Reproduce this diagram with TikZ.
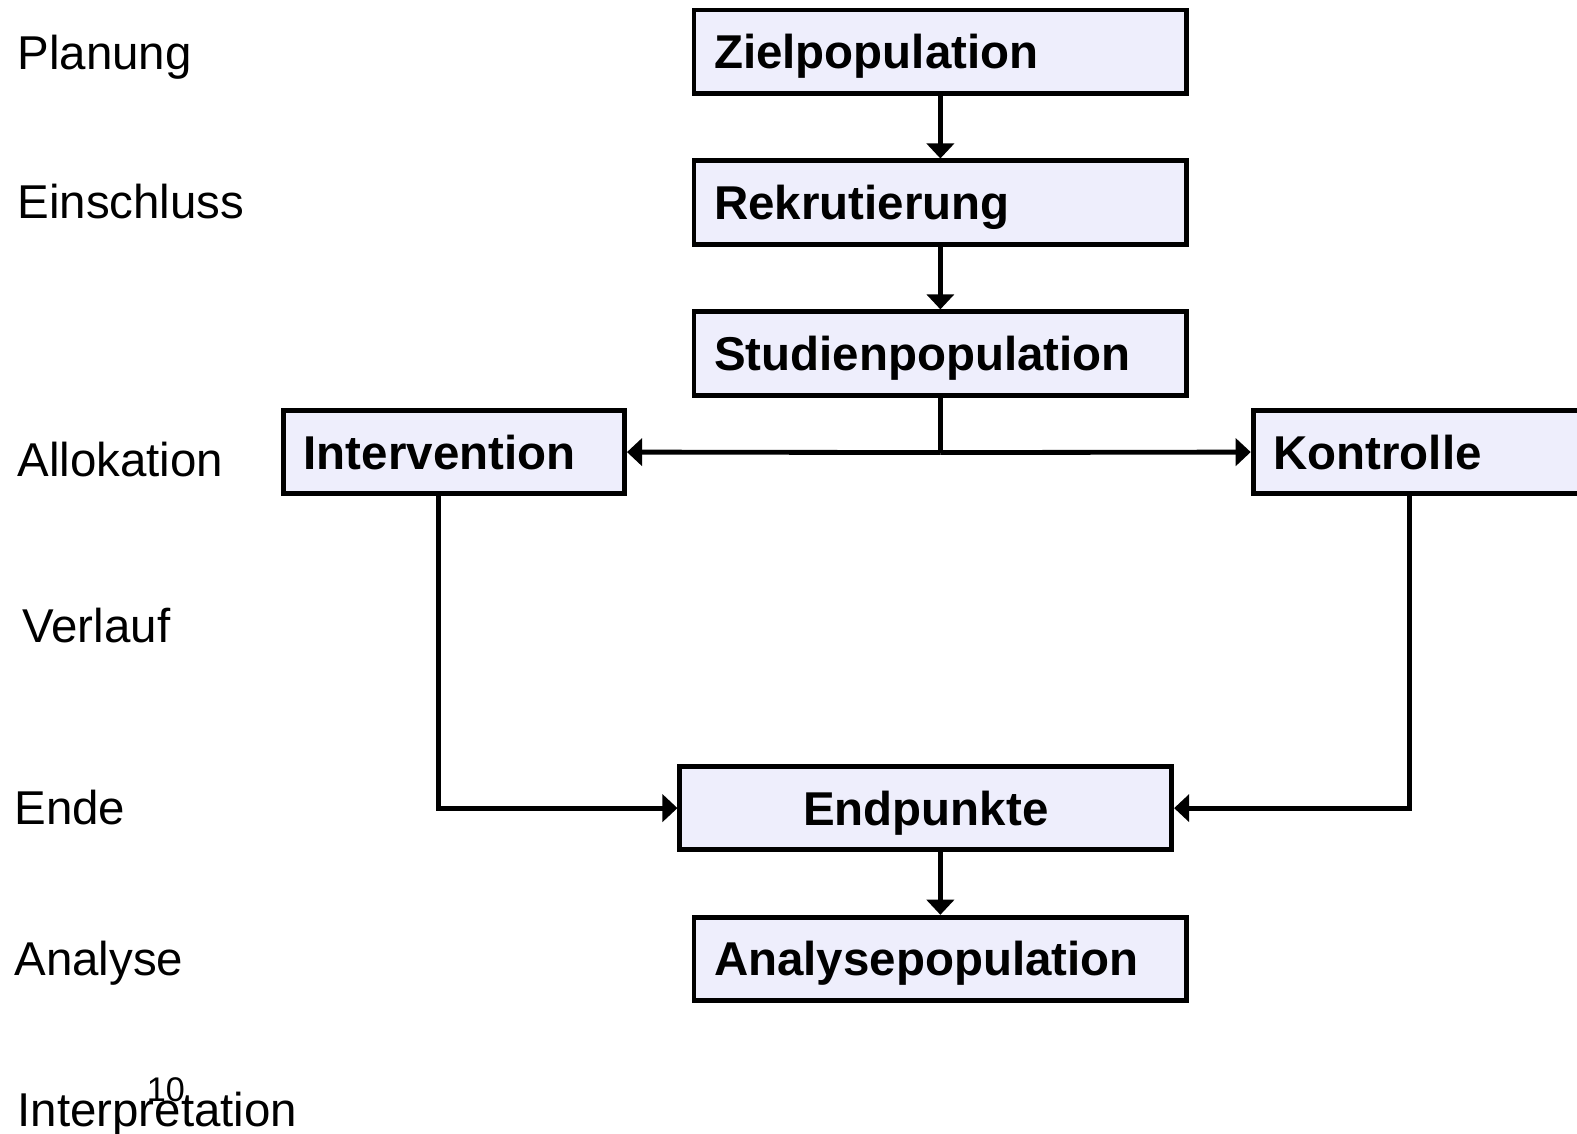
\documentclass[tikz,border=0pt]{standalone}
\usepackage{fontspec}
\setmainfont{Liberation Sans}
\usetikzlibrary{arrows.meta}
\definecolor{boxfill}{RGB}{238,238,252}
\begin{document}
\begin{tikzpicture}[x=0.5pt,y=-0.5pt,
  stage/.style={font=\fontsize{23.6}{28}\selectfont, anchor=west, inner sep=0pt,
    text height=16.9pt, text depth=0pt},
  flowbox/.style={draw, line width=2.4pt, fill=boxfill,
    font=\fontsize{23.6}{28}\selectfont\bfseries, minimum height=41.5pt,
    text height=16.9pt, text depth=0pt, inner xsep=10pt, inner ysep=0pt,
    align=left},
  link/.style={line width=2.4pt},
  tip/.style={-{Triangle[length=7.5pt,width=13.5pt]}}
]
\useasboundingbox (0,0) rectangle (1568,1127);
\clip (0,0) rectangle (1568,1127);

% stage labels on the left
\node[stage] (lplan) at (17,52) {Planung};
\node[stage] (lein)  at (17,200) {Einschluss};
\node[stage] (lallo) at (17,457) {Allokation};
\node[stage] (lverl) at (22,622) {Verlauf};
\node[stage] (lende) at (14,803) {Ende};
\node[stage] (lana)  at (14,953) {Analyse};
\node[stage] (lint)  at (17,1103) {Interpretation};
\node[font=\fontsize{17}{20}\selectfont, inner sep=0pt, text height=12.2pt, text depth=0pt] (pnum) at (165,1083) {10};

% flow boxes
\node[flowbox, text width=225pt] (ziel) at (935,51.5) {Zielpopulation};
\node[flowbox, text width=225pt] (rekr) at (935,201.5) {Rekrutierung};
\node[flowbox, text width=225pt] (stud) at (935,351.5) {Studienpopulation};
\node[flowbox, text width=149.5pt] (interv) at (451.5,449.5) {Intervention};
\node[flowbox, text width=180pt] (kontr) at (1446,449.5) {Kontrolle};
\node[flowbox, text width=224.5pt, align=center] (endp) at (920.5,803.5) {Endpunkte};
\node[flowbox, text width=225pt] (anal) at (935,953.5) {Analysepopulation};

% connectors
\draw[link,tip] (ziel) -- (rekr);
\draw[link,tip] (rekr) -- (stud);
\draw[link] (stud.south) -- (935,450) coordinate (split);
\draw[link,tip] (split) -- (interv.east);
\draw[link,tip] (split) -- (kontr.west);
\draw[link,tip] ([xshift=78pt]interv.south west) |- (endp.west);
\draw[link,tip] ([xshift=79pt]kontr.south west) |- (endp.east);
\draw[link,tip] (endp.south -| anal.north) -- (anal.north);
\end{tikzpicture}
\end{document}
